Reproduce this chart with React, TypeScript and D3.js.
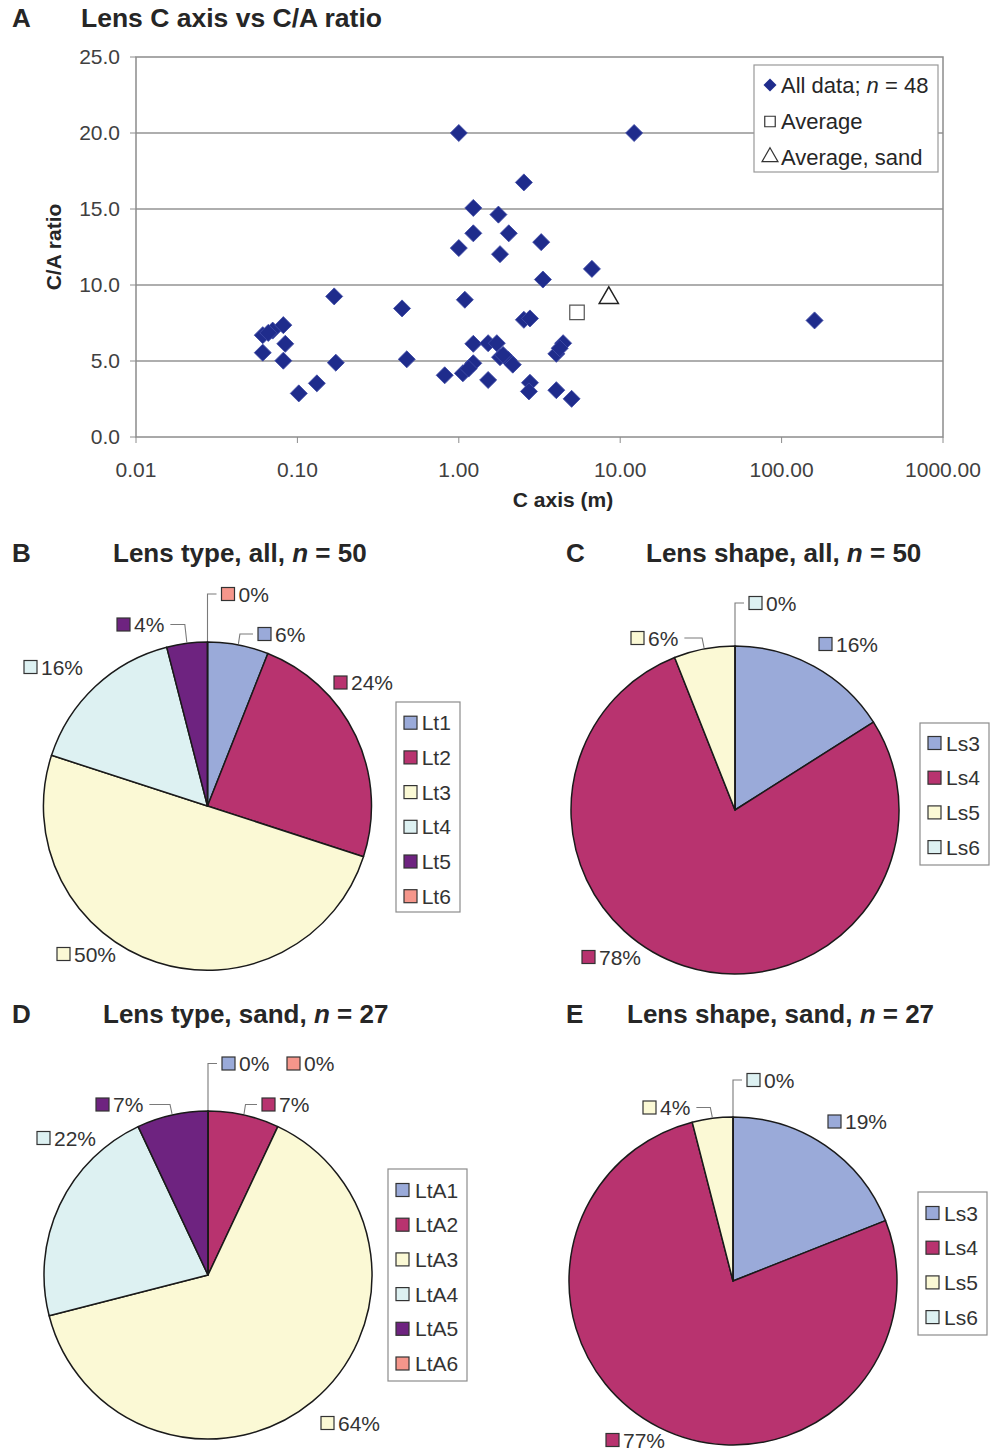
import * as React from 'react'
import { useEffect, useRef } from 'react'
import * as d3 from 'd3'

const W = 996
const H = 1451
const FONT = '"Liberation Sans", Arial, Helvetica, sans-serif'
const INK = '#262626'

// panel A: C axis (m) against C/A ratio, one entry per lens
const cAxis = [
  1.0, 12.2, 2.53, 1.23, 1.76, 1.23, 2.04, 1.0, 1.8, 3.24, 6.68, 3.32,
  0.169, 1.09, 0.445, 2.53, 2.76, 160, 0.061, 0.0703, 0.0818, 0.0841, 0.061, 0.0818,
  0.102, 0.132, 0.173, 0.476, 0.818, 1.06, 1.23, 1.23, 1.52, 1.72, 1.52, 1.8,
  2.03, 2.16, 2.76, 2.72, 4.43, 4.02, 4.22, 4.02, 5.0, 0.066, 1.15, 1.88,
]
const caRatio = [
  20.0, 20.0, 16.75, 15.07, 14.63, 13.4, 13.4, 12.43, 12.03, 12.82, 11.06, 10.36,
  9.25, 9.03, 8.46, 7.71, 7.8, 7.67, 6.7, 7.0, 7.36, 6.13, 5.55, 5.02,
  2.87, 3.53, 4.89, 5.11, 4.06, 4.19, 4.85, 6.13, 6.17, 6.17, 3.75, 5.25,
  5.07, 4.76, 3.57, 3.0, 6.17, 5.47, 5.84, 3.08, 2.51, 6.85, 4.5, 5.4,
]
const averageAll = [5.4, 8.2]
const averageSand = [8.5, 9.15]
const xTicks = [0.01, 0.1, 1, 10, 100, 1000]
const xTickLabels = ['0.01', '0.10', '1.00', '10.00', '100.00', '1000.00']
const yTicks = [0, 5, 10, 15, 20, 25]

// panels B-E: percentages per class
const typeNames = ['Lt1', 'Lt2', 'Lt3', 'Lt4', 'Lt5', 'Lt6']
const typeAll = [6, 24, 50, 16, 4, 0]
const typeSandNames = ['LtA1', 'LtA2', 'LtA3', 'LtA4', 'LtA5', 'LtA6']
const typeSand = [0, 7, 64, 22, 7, 0]
const shapeNames = ['Ls3', 'Ls4', 'Ls5', 'Ls6']
const shapeAll = [16, 78, 6, 0]
const shapeSand = [19, 77, 4, 0]

const typeColors = ['#9aaad9', '#b8336f', '#fbf9d5', '#ddf1f2', '#6e2380', '#f5968b']
const shapeColors = ['#9aaad9', '#b8336f', '#fbf9d5', '#ddf1f2']

type Sel = d3.Selection<SVGSVGElement, unknown, null, undefined>

function titleText(svg: Sel, x: number, y: number, before: string, after: string) {
  const t = svg
    .append('text')
    .attr('x', x)
    .attr('y', y)
    .attr('font-size', 26)
    .attr('font-weight', 'bold')
    .attr('fill', INK)
  t.append('tspan').text(before)
  t.append('tspan').attr('font-style', 'italic').text('n')
  t.append('tspan').text(after)
}

function letter(svg: Sel, x: number, y: number, s: string) {
  svg
    .append('text')
    .attr('x', x)
    .attr('y', y)
    .attr('font-size', 26)
    .attr('font-weight', 'bold')
    .attr('fill', INK)
    .text(s)
}

function drawScatter(svg: Sel) {
  const x = d3.scaleLog().domain([0.01, 1000]).range([136, 943])
  const y = d3.scaleLinear().domain([0, 25]).range([437, 57])
  const g = svg.append('g')

  letter(svg, 12, 27, 'A')
  svg
    .append('text')
    .attr('x', 81)
    .attr('y', 27)
    .attr('font-size', 26.5)
    .attr('font-weight', 'bold')
    .attr('fill', INK)
    .text('Lens C axis vs C/A ratio')

  // grid lines
  g.selectAll('line.grid')
    .data(yTicks.filter((d) => d > 0 && d < 25))
    .enter()
    .append('line')
    .attr('x1', x(0.01))
    .attr('x2', x(1000))
    .attr('y1', (d) => y(d))
    .attr('y2', (d) => y(d))
    .attr('stroke', '#5f5f5f')
    .attr('stroke-width', 1.2)

  g.append('rect')
    .attr('x', x(0.01))
    .attr('y', y(25))
    .attr('width', x(1000) - x(0.01))
    .attr('height', y(0) - y(25))
    .attr('fill', 'none')
    .attr('stroke', '#8c8c8c')
    .attr('stroke-width', 1.5)

  // y axis ticks + labels
  g.selectAll('line.yt')
    .data(yTicks)
    .enter()
    .append('line')
    .attr('x1', x(0.01) - 6)
    .attr('x2', x(0.01))
    .attr('y1', (d) => y(d))
    .attr('y2', (d) => y(d))
    .attr('stroke', '#8c8c8c')
  g.selectAll('text.yl')
    .data(yTicks)
    .enter()
    .append('text')
    .attr('x', 120)
    .attr('y', (d) => y(d))
    .attr('dy', '0.35em')
    .attr('text-anchor', 'end')
    .attr('font-size', 21)
    .attr('fill', '#404040')
    .text((d) => d.toFixed(1))

  // x axis ticks + labels
  g.selectAll('line.xt')
    .data(xTicks)
    .enter()
    .append('line')
    .attr('x1', (d) => x(d))
    .attr('x2', (d) => x(d))
    .attr('y1', y(0))
    .attr('y2', y(0) + 6)
    .attr('stroke', '#8c8c8c')
  g.selectAll('text.xl')
    .data(xTicks)
    .enter()
    .append('text')
    .attr('x', (d) => x(d))
    .attr('y', 477)
    .attr('text-anchor', 'middle')
    .attr('font-size', 21)
    .attr('fill', '#404040')
    .text((d, i) => xTickLabels[i])

  g.append('text')
    .attr('x', 563)
    .attr('y', 507)
    .attr('text-anchor', 'middle')
    .attr('font-size', 21)
    .attr('font-weight', 'bold')
    .attr('fill', INK)
    .text('C axis (m)')
  g.append('text')
    .attr('transform', 'translate(53,247) rotate(-90)')
    .attr('text-anchor', 'middle')
    .attr('dominant-baseline', 'central')
    .attr('font-size', 21)
    .attr('font-weight', 'bold')
    .attr('fill', INK)
    .text('C/A ratio')

  const diamond = d3.symbol().type(d3.symbolSquare).size(145)
  g.selectAll('path.pt')
    .data(cAxis.map((c, i) => [c, caRatio[i]]))
    .enter()
    .append('path')
    .attr('d', diamond)
    .attr('transform', (d) => `translate(${x(d[0])},${y(d[1])}) rotate(45)`)
    .attr('fill', '#1f2c8c')
    .attr('stroke', '#3f4aa5')
    .attr('stroke-width', 0.8)

  const square = d3.symbol().type(d3.symbolSquare).size(210)
  g.append('path')
    .attr('d', square)
    .attr('transform', `translate(${x(averageAll[0])},${y(averageAll[1])})`)
    .attr('fill', '#fff')
    .attr('stroke', '#555')
    .attr('stroke-width', 1.2)
  const tri = d3.symbol().type(d3.symbolTriangle).size(160)
  g.append('path')
    .attr('d', tri)
    .attr('transform', `translate(${x(averageSand[0])},${y(averageSand[1])})`)
    .attr('fill', '#fff')
    .attr('stroke', '#222')
    .attr('stroke-width', 1.5)

  // legend
  const lg = g.append('g')
  lg.append('rect')
    .attr('x', 754)
    .attr('y', 65)
    .attr('width', 184)
    .attr('height', 107)
    .attr('fill', '#fff')
    .attr('stroke', '#999')
    .attr('stroke-width', 1.2)
  lg.append('path')
    .attr('d', d3.symbol().type(d3.symbolSquare).size(85))
    .attr('transform', 'translate(770,85) rotate(45)')
    .attr('fill', '#1f2c8c')
  lg.append('path')
    .attr('d', d3.symbol().type(d3.symbolSquare).size(110))
    .attr('transform', 'translate(770,121.5)')
    .attr('fill', '#fff')
    .attr('stroke', '#333')
    .attr('stroke-width', 1.2)
  lg.append('path')
    .attr('d', d3.symbol().type(d3.symbolTriangle).size(110))
    .attr('transform', 'translate(770,157)')
    .attr('fill', '#fff')
    .attr('stroke', '#333')
    .attr('stroke-width', 1.2)
  const l1 = lg
    .append('text')
    .attr('x', 781)
    .attr('y', 85)
    .attr('dy', '0.35em')
    .attr('font-size', 22)
    .attr('fill', INK)
  l1.append('tspan').text('All data; ')
  l1.append('tspan').attr('font-style', 'italic').text('n')
  l1.append('tspan').text(' = 48')
  lg.append('text')
    .attr('x', 781)
    .attr('y', 121.5)
    .attr('dy', '0.35em')
    .attr('font-size', 22)
    .attr('fill', INK)
    .text('Average')
  lg.append('text')
    .attr('x', 781)
    .attr('y', 157)
    .attr('dy', '0.35em')
    .attr('font-size', 22)
    .attr('fill', INK)
    .text('Average, sand')
}

interface PieCfg {
  values: number[]
  names: string[]
  colors: string[]
  cx: number
  cy: number
  r: number
  letter: string
  letterX: number
  titleX: number
  titleY: number
  title: [string, string]
  // label swatch left / centre, relative to pie centre; true = leader line
  labels: [number, number, boolean][]
  legend: { x: number; y: number; w: number; h: number; rowY: number; textX: number }
}

function drawPie(svg: Sel, cfg: PieCfg) {
  const { values, names, colors, cx, cy, r, labels, legend } = cfg
  letter(svg, cfg.letterX, cfg.titleY, cfg.letter)
  titleText(svg, cfg.titleX, cfg.titleY, cfg.title[0], cfg.title[1])

  const arcs = d3.pie<number>().sort(null).value((d) => d)(values)
  const arc = d3.arc<d3.PieArcDatum<number>>().innerRadius(0).outerRadius(r)
  const g = svg.append('g').attr('transform', `translate(${cx},${cy})`)

  g.selectAll('path.slice')
    .data(arcs)
    .enter()
    .append('path')
    .attr('d', arc)
    .attr('fill', (d, i) => colors[i])
    .attr('stroke', '#1a1a1a')
    .attr('stroke-width', 1.5)
    .attr('stroke-linejoin', 'round')

  // data labels
  arcs.forEach((a, i) => {
    const [dx, dy, leader] = labels[i]
    g.append('rect')
      .attr('x', dx)
      .attr('y', dy - 6.5)
      .attr('width', 13)
      .attr('height', 13)
      .attr('fill', colors[i])
      .attr('stroke', '#333')
      .attr('stroke-width', 1.2)
    const t = g
      .append('text')
      .attr('x', dx + 17)
      .attr('y', dy)
      .attr('dy', '0.36em')
      .attr('font-size', 21)
      .attr('fill', '#333')
      .text(`${values[i]}%`)
    if (leader) {
      const mid = (a.startAngle + a.endAngle) / 2
      const px = (r + 1) * Math.sin(mid)
      const py = -(r + 1) * Math.cos(mid)
      let pts: [number, number][]
      if (dx > px) {
        const bx = a.value === 0 ? px : px + 1.5
        pts = [[px, py], [bx, dy], [dx - 5, dy]]
      } else {
        const tw = (t.node() as SVGTextElement).getComputedTextLength()
        pts = [[px, py], [px - 2, dy], [dx + 17 + tw + 6, dy]]
      }
      g.append('path')
        .attr('d', d3.line()(pts))
        .attr('fill', 'none')
        .attr('stroke', '#7a7a7a')
        .attr('stroke-width', 1.1)
    }
  })

  // legend
  const lg = svg.append('g')
  lg.append('rect')
    .attr('x', legend.x)
    .attr('y', legend.y)
    .attr('width', legend.w)
    .attr('height', legend.h)
    .attr('fill', '#fff')
    .attr('stroke', '#8c8c8c')
    .attr('stroke-width', 1.2)
  names.forEach((n, i) => {
    const ry = legend.y + legend.rowY + i * 34.7
    lg.append('rect')
      .attr('x', legend.x + 8)
      .attr('y', ry - 6.5)
      .attr('width', 13)
      .attr('height', 13)
      .attr('fill', colors[i])
      .attr('stroke', '#333')
      .attr('stroke-width', 1.2)
    lg.append('text')
      .attr('x', legend.x + legend.textX)
      .attr('y', ry)
      .attr('dy', '0.36em')
      .attr('font-size', 21)
      .attr('fill', '#333')
      .text(n)
  })
}

export default function App() {
  const ref = useRef<SVGSVGElement>(null)

  useEffect(() => {
    const svg = d3.select(ref.current as SVGSVGElement)
    svg.selectAll('*').remove()
    svg.append('rect').attr('width', W).attr('height', H).attr('fill', '#fff')

    drawScatter(svg)

    drawPie(svg, {
      values: typeAll,
      names: typeNames,
      colors: typeColors,
      cx: 207.5,
      cy: 806,
      r: 164,
      letter: 'B',
      letterX: 12,
      titleX: 113,
      titleY: 562,
      title: ['Lens type, all, ', ' = 50'],
      labels: [
        [50.5, -172, true],
        [126.5, -123.5, false],
        [-150.5, 148, false],
        [-183.5, -139, false],
        [-90.5, -181.5, true],
        [14, -212, true],
      ],
      legend: { x: 396, y: 702, w: 64, h: 210, rowY: 20.7, textX: 25.7 },
    })

    drawPie(svg, {
      values: shapeAll,
      names: shapeNames,
      colors: shapeColors,
      cx: 735,
      cy: 810,
      r: 164,
      letter: 'C',
      letterX: 566,
      titleX: 646,
      titleY: 562,
      title: ['Lens shape, all, ', ' = 50'],
      labels: [
        [84, -166, false],
        [-153, 147, false],
        [-104, -172, true],
        [14, -207, true],
      ],
      legend: { x: 920, y: 723, w: 69, h: 142, rowY: 20, textX: 26 },
    })

    drawPie(svg, {
      values: typeSand,
      names: typeSandNames,
      colors: typeColors,
      cx: 208,
      cy: 1275,
      r: 164,
      letter: 'D',
      letterX: 12,
      titleX: 103,
      titleY: 1023,
      title: ['Lens type, sand, ', ' = 27'],
      labels: [
        [14, -211.5, true],
        [54, -170.5, true],
        [113, 148, false],
        [-171, -137, false],
        [-112, -170.5, true],
        [79, -211.5, false],
      ],
      legend: { x: 388, y: 1169, w: 79, h: 212, rowY: 21, textX: 27 },
    })

    drawPie(svg, {
      values: shapeSand,
      names: shapeNames,
      colors: shapeColors,
      cx: 733,
      cy: 1281,
      r: 164,
      letter: 'E',
      letterX: 566,
      titleX: 627,
      titleY: 1023,
      title: ['Lens shape, sand, ', ' = 27'],
      labels: [
        [95, -159.5, false],
        [-127, 159, false],
        [-90, -173.5, true],
        [14, -201, true],
      ],
      legend: { x: 918, y: 1192, w: 69, h: 143, rowY: 21, textX: 26 },
    })
  }, [])

  return (
    <svg
      ref={ref}
      width={W}
      height={H}
      style={{ position: 'absolute', left: 0, top: 0, fontFamily: FONT }}
    />
  )
}
